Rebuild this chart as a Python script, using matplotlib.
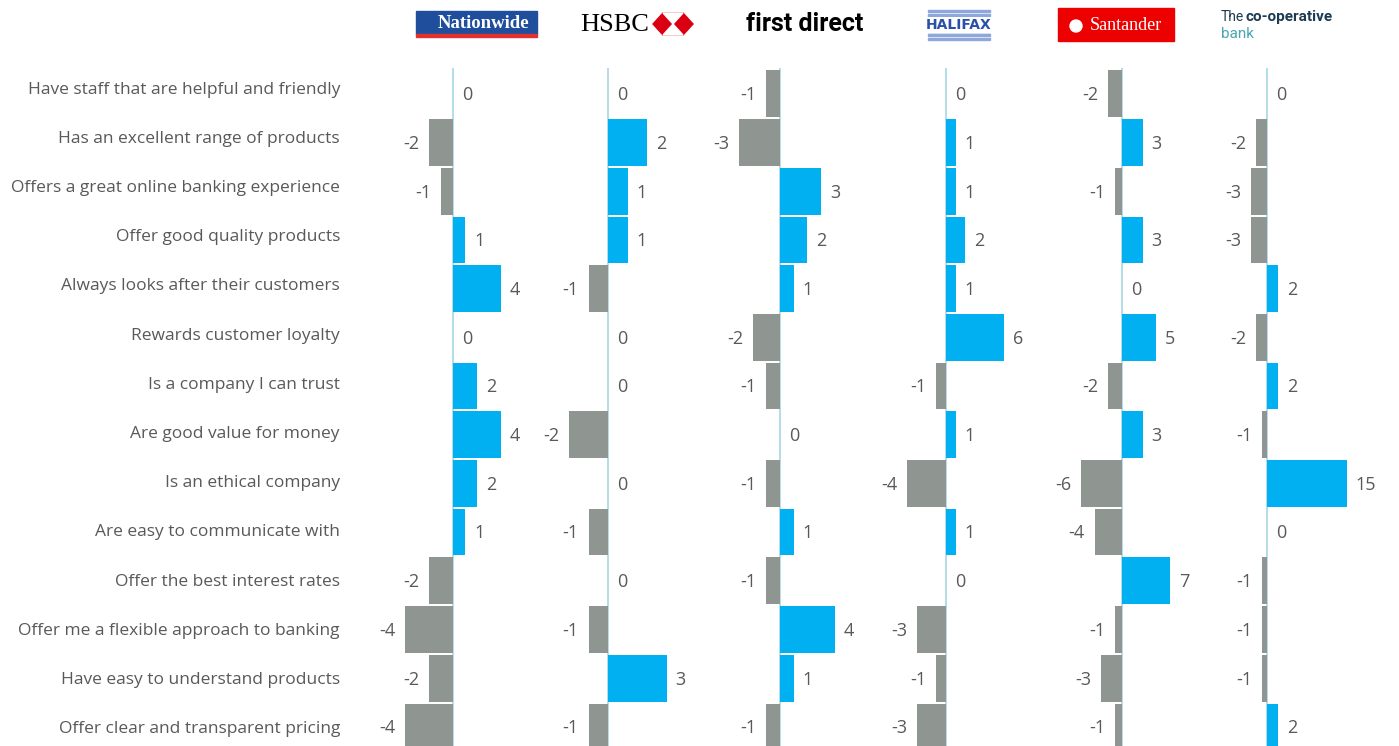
import matplotlib.pyplot as plt
import matplotlib.patches as mpatches
from matplotlib.transforms import blended_transform_factory
import numpy as np

plt.rcParams['font.family'] = ['Open Sans', 'DejaVu Sans']

categories = [
    "Have staff that are helpful and friendly",
    "Has an excellent range of products",
    "Offers a great online banking experience",
    "Offer good quality products",
    "Always looks after their customers",
    "Rewards customer loyalty",
    "Is a company I can trust",
    "Are good value for money",
    "Is an ethical company",
    "Are easy to communicate with",
    "Offer the best interest rates",
    "Offer me a flexible approach to banking",
    "Have easy to understand products",
    "Offer clear and transparent pricing",
]
banks = ["Nationwide", "HSBC", "first direct", "Halifax", "Santander", "The co-operative bank"]
nationwide = [0, -2, -1, 1, 4, 0, 2, 4, 2, 1, -2, -4, -2, -4]
hsbc = [0, 2, 1, 1, -1, 0, 0, -2, 0, -1, 0, -1, 3, -1]
first_direct = [-1, -3, 3, 2, 1, -2, -1, 0, -1, 1, -1, 4, 1, -1]
halifax = [0, 1, 1, 2, 1, 6, -1, 1, -4, 1, 0, -3, -1, -3]
santander = [-2, 3, -1, 3, 0, 5, -2, 3, -6, -4, 7, -1, -3, -1]
coop = [0, -2, -3, -3, 2, -2, 2, -1, 15, 0, -1, -1, -1, 2]
series = [nationwide, hsbc, first_direct, halifax, santander, coop]

# layout (pixels)
W, H = 1399, 746
zero_px = [453, 608, 780, 946, 1122, 1267]
px_per_unit = [12.0, 19.5, 13.7, 9.7, 6.85, 5.3]
panel_left = [360, 530, 700, 870, 1040, 1200]
panel_right = [530, 700, 870, 1040, 1200, 1399]
top_px, bot_px = 68, 746
row0_px, row_step = 93.8, 48.7
label0_px, label_step = 89.5, 49.2

BLUE = "#00b0f0"
GRAY = "#8f9590"
TXT = "#595959"
ZLINE = "#a9d6e5"

fig = plt.figure(figsize=(W / 100, H / 100), dpi=100)

y = np.arange(len(categories))
ylim = ((bot_px - row0_px) / row_step, (top_px - row0_px) / row_step)

axes = []
for i, vals in enumerate(series):
    l, r = panel_left[i], panel_right[i]
    ax = fig.add_axes([l / W, 1 - bot_px / H, (r - l) / W, (bot_px - top_px) / H])
    ax.set_xlim((l - zero_px[i]) / px_per_unit[i], (r - zero_px[i]) / px_per_unit[i])
    ax.set_ylim(*ylim)
    ax.axis("off")
    ax.axvline(0, color=ZLINE, lw=1.2, zorder=1)
    vals = np.array(vals)
    colors = [BLUE if v >= 0 else GRAY for v in vals]
    ax.barh(y, vals, height=0.96, color=colors, zorder=2)
    for yy, v in zip(y, vals):
        if v < 0:
            ax.annotate(str(v), (v, yy), xytext=(-7, -1), textcoords="offset points",
                        ha="right", va="center", fontsize=13, color=TXT)
        else:
            ax.annotate(str(v), (v, yy), xytext=(6.5, -1), textcoords="offset points",
                        ha="left", va="center", fontsize=13, color=TXT)
    axes.append(ax)

for i, c in enumerate(categories):
    fig.text(340 / W, 1 - (label0_px + i * label_step) / H, c,
             ha="right", va="center", fontsize=12.5, color=TXT)


# logos, drawn roughly with text and patches
def fx(px):
    return px / W


def fy(py):
    return 1 - py / H


# Nationwide
fig.patches.append(mpatches.Rectangle((fx(416), fy(34)), (537 - 416) / W, 23 / H,
                                      transform=fig.transFigure, color="#1f4e9c"))
fig.patches.append(mpatches.Rectangle((fx(416), fy(37)), (537 - 416) / W, 3 / H,
                                      transform=fig.transFigure, color="#e03030"))
fig.text(fx(484), fy(23), "Nationwide", ha="center", va="center", color="white",
         fontsize=13.5, fontweight="bold", family="Liberation Serif")
# HSBC
fig.text(fx(615), fy(25), "HSBC", ha="center", va="center", color="black",
         fontsize=19, family="Liberation Serif")
hx, hy, hw, hh = 673, 24, 20, 11
fig.patches.append(mpatches.Polygon([(fx(hx - hw), fy(hy)), (fx(hx - hw / 2), fy(hy - hh)),
                                     (fx(hx + hw / 2), fy(hy - hh)), (fx(hx + hw), fy(hy)),
                                     (fx(hx + hw / 2), fy(hy + hh)), (fx(hx - hw / 2), fy(hy + hh))],
                                    closed=True, transform=fig.transFigure, color="#db0011"))
fig.patches.append(mpatches.Polygon([(fx(hx - hw / 2), fy(hy - hh)), (fx(hx + hw / 2), fy(hy - hh)),
                                     (fx(hx), fy(hy))], closed=True,
                                    transform=fig.transFigure, color="white"))
fig.patches.append(mpatches.Polygon([(fx(hx - hw / 2), fy(hy + hh)), (fx(hx + hw / 2), fy(hy + hh)),
                                     (fx(hx), fy(hy))], closed=True,
                                    transform=fig.transFigure, color="white"))
# first direct
fig.text(fx(805), fy(24), "first direct", ha="center", va="center", color="black",
         fontsize=18, fontweight="bold", family="Roboto")
# Halifax
for k in range(8):
    yy = 10 + k * 4
    fig.patches.append(mpatches.Rectangle((fx(928), fy(yy + 1.5)), 62 / W, 1.5 / H,
                                          transform=fig.transFigure, color="#8fa8dc"))
fig.text(fx(959), fy(25), "HALIFAX", ha="center", va="center", color="#2a4fa8",
         fontsize=10, fontweight="bold", family="DejaVu Sans",
         bbox=dict(facecolor="white", edgecolor="none", pad=0.5))
# Santander
fig.patches.append(mpatches.Rectangle((fx(1058), fy(41)), (1174 - 1058) / W, 33 / H,
                                      transform=fig.transFigure, color="#ec0000"))
fig.text(fx(1126), fy(25), "Santander", ha="center", va="center", color="white",
         fontsize=13, family="Liberation Serif")
fig.patches.append(mpatches.Ellipse((fx(1076), fy(26)), 12 / W, 12 / H,
                                    transform=fig.transFigure, color="white"))
# co-operative bank
fig.text(fx(1221), fy(17), "The", ha="left", va="center", color="#1d3b53",
         fontsize=10, family="Roboto")
fig.text(fx(1246), fy(17), "co-operative", ha="left", va="center", color="#1d3b53",
         fontsize=11, fontweight="bold", family="Roboto")
fig.text(fx(1221), fy(34), "bank", ha="left", va="center", color="#4aa6b0",
         fontsize=11, family="Roboto")

plt.savefig("out.png", dpi=100)
plt.close()
